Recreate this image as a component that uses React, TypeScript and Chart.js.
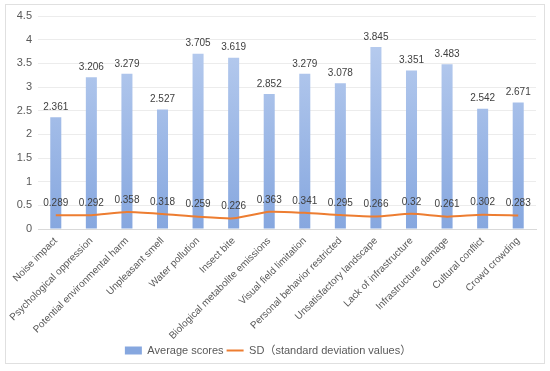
import React, { useEffect, useRef } from "react";
import { Chart, registerables } from "chart.js";

Chart.register(...registerables);

const categories: string[] = [
  "Noise impact",
  "Psychological oppression",
  "Potential environmental harm",
  "Unpleasant smell",
  "Water pollution",
  "Insect bite",
  "Biological metabolite emissions",
  "Visual field limitation",
  "Personal behavior restricted",
  "Unsatisfactory landscape",
  "Lack of infrastructure",
  "Infrastructure damage",
  "Cultural conflict",
  "Crowd crowding",
];

const averageScores: number[] = [
  2.361, 3.206, 3.279, 2.527, 3.705, 3.619, 2.852, 3.279, 3.078, 3.845, 3.351,
  3.483, 2.542, 2.671,
];

const sdValues: number[] = [
  0.289, 0.292, 0.358, 0.318, 0.259, 0.226, 0.363, 0.341, 0.295, 0.266, 0.32,
  0.261, 0.302, 0.283,
];

const seriesNames: string[] = [
  "Average scores",
  "SD（standard deviation values）",
];

const FONT = '"Liberation Sans", Arial, "Noto Sans CJK SC", sans-serif';

const valueLabelPlugin = {
  id: "valueLabels",
  afterDatasetsDraw(chart: any) {
    const ctx = chart.ctx;
    ctx.save();
    ctx.font = `10px ${FONT}`;
    ctx.fillStyle = "#404040";
    ctx.textAlign = "center";
    ctx.textBaseline = "middle";
    const barMeta = chart.getDatasetMeta(0);
    barMeta.data.forEach((el: any, i: number) => {
      ctx.fillText(String(averageScores[i]), el.x, el.y - 10);
    });
    const lineMeta = chart.getDatasetMeta(1);
    lineMeta.data.forEach((el: any, i: number) => {
      ctx.fillText(String(sdValues[i]), el.x, el.y - 12);
    });
    ctx.restore();
  },
};

export default function App() {
  const canvasRef = useRef<HTMLCanvasElement | null>(null);

  useEffect(() => {
    const canvas = canvasRef.current;
    if (!canvas) return;
    const chart = new Chart(canvas, {
      type: "bar",
      data: {
        labels: categories,
        datasets: [
          {
            type: "bar",
            label: seriesNames[0],
            data: averageScores,
            order: 1,
            pointStyle: "rect",
            backgroundColor: (context: any) => {
              const { chart } = context;
              const area = chart.chartArea;
              if (!area) return "#a6bfe9";
              const g = chart.ctx.createLinearGradient(0, area.top, 0, area.bottom);
              g.addColorStop(0, "#bdd0f0");
              g.addColorStop(1, "#86a7df");
              return g;
            },
            borderWidth: 0,
            barPercentage: 0.31,
            categoryPercentage: 1,
          },
          {
            type: "line",
            label: seriesNames[1],
            data: sdValues,
            order: 0,
            pointStyle: "line",
            borderColor: "#ED7D31",
            backgroundColor: "#ED7D31",
            borderWidth: 2,
            pointRadius: 0,
            tension: 0.2,
            fill: false,
          },
        ],
      },
      options: {
        animation: false,
        responsive: false,
        maintainAspectRatio: false,
        layout: { padding: { top: 16, right: 14, left: 0, bottom: 5 } },
        plugins: {
          tooltip: { enabled: false },
          legend: {
            position: "bottom",
            labels: {
              usePointStyle: true,
              pointStyleWidth: 17,
              boxHeight: 8,
              padding: 3,
              color: "#595959",
              font: { size: 11, family: FONT },
              sort: (a: any, b: any) => a.datasetIndex - b.datasetIndex,
            },
          },
        },
        scales: {
          x: {
            grid: { display: false, drawTicks: false },
            border: { display: true, color: "#d9d9d9" },
            ticks: {
              autoSkip: false,
              maxRotation: 45,
              minRotation: 45,
              color: "#595959",
              padding: 6,
              font: { size: 10, family: FONT },
            },
            afterFit: (scale: any) => {
              scale.height = 113;
            },
          },
          y: {
            min: 0,
            max: 4.5,
            grid: { color: "#ececec", drawTicks: false },
            border: { display: false },
            ticks: {
              stepSize: 0.5,
              color: "#595959",
              padding: 6,
              font: { size: 11, family: FONT },
              callback: (v: any) => String(Math.round(Number(v) * 10) / 10),
            },
            afterFit: (scale: any) => {
              scale.width = 38;
            },
          },
        },
      },
      plugins: [valueLabelPlugin],
    } as any);
    return () => chart.destroy();
  }, []);

  return (
    <div style={{ position: "absolute", left: 0, top: 0, width: 550, height: 371, background: "#fff" }}>
      <div
        style={{
          position: "absolute",
          left: 5,
          top: 4,
          width: 538,
          height: 358,
          border: "1px solid #e0e0e0",
          boxSizing: "content-box",
        }}
      />
      <canvas
        ref={canvasRef}
        width={550}
        height={371}
        style={{ position: "absolute", left: 0, top: 0, width: 550, height: 371 }}
      />
    </div>
  );
}
